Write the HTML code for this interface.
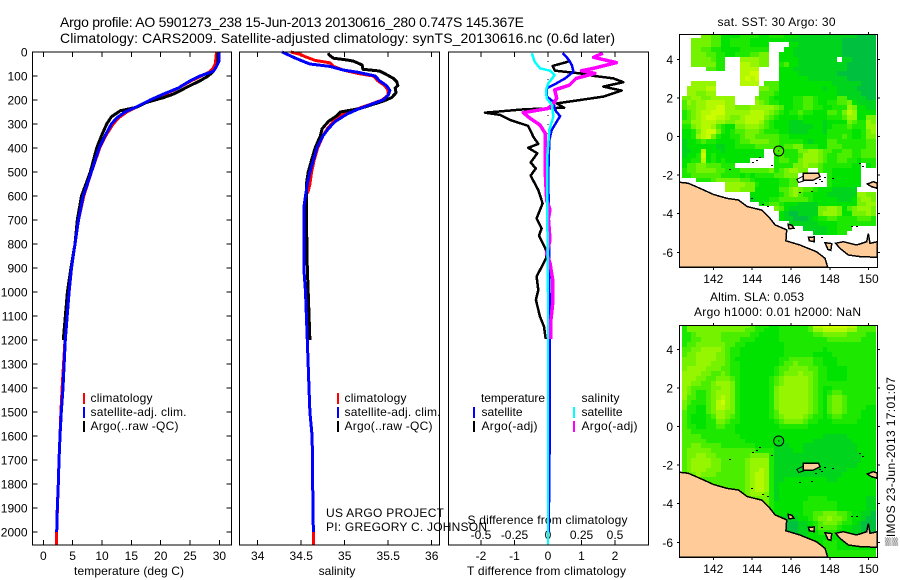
<!DOCTYPE html>
<html lang="en">
<head>
<meta charset="utf-8">
<title>Argo profile chart</title>
<style>
html,body{margin:0;padding:0;background:#fff;}
svg{display:block;font-family:"Liberation Sans",Arial,sans-serif;font-size:12px;fill:#000;}
text{fill:#000;stroke:none;}
</style>
</head>
<body>
<svg id="fig" xmlns="http://www.w3.org/2000/svg" width="900" height="580" viewBox="0 0 900 580">
<rect x="0" y="0" width="900" height="580" fill="#fff"/>
<text x="60" y="27" font-size="14" textLength="464" lengthAdjust="spacing">Argo profile: AO 5901273_238 15-Jun-2013 20130616_280 0.747S 145.367E</text>
<text x="60" y="43" font-size="14" textLength="555" lengthAdjust="spacing">Climatology: CARS2009. Satellite-adjusted climatology: synTS_20130616.nc (0.6d later)</text>
<text x="129" y="575" text-anchor="middle" textLength="110" lengthAdjust="spacing">temperature (deg C)</text>
<text x="337" y="575" text-anchor="middle">salinity</text>
<text x="546.5" y="575" text-anchor="middle" textLength="159" lengthAdjust="spacing">T difference from climatology</text>
<text x="467.5" y="524" textLength="160" lengthAdjust="spacing">S difference from climatology</text>
<text x="326" y="517" textLength="118" lengthAdjust="spacing">US ARGO PROJECT</text>
<text x="326" y="531" textLength="161" lengthAdjust="spacing">PI: GREGORY C. JOHNSON</text>
<text x="776.5" y="26" text-anchor="middle" textLength="118" lengthAdjust="spacing">sat. SST: 30 Argo: 30</text>
<text x="710" y="301" textLength="94" lengthAdjust="spacing">Altim. SLA: 0.053</text>
<text x="694" y="316" textLength="167" lengthAdjust="spacing">Argo h1000: 0.01 h2000: NaN</text>
<text transform="translate(895,546) rotate(-90)" textLength="169" lengthAdjust="spacing">▒IMOS 23-Jun-2013 17:01:07</text>
<g id="plots"></g>
</svg>
<script>
// ---- profile data ----
const tempTicks = [0,5,10,15,20,25,30];
const salTicks = [34,34.5,35,35.5,36];
const salTickLabels = ['34','34.5','35','35.5','36'];
const diffTicks = [-2,-1,0,1,2];
const sDiffTicks = [-0.5,-0.25,0,0.25,0.5];
const sDiffTickLabels = ['-0.5','-0.25','0','0.25','0.5'];
const depthTicks = [0,100,200,300,400,500,600,700,800,900,1000,1100,1200,1300,1400,1500,1600,1700,1800,1900,2000];

const redTempDepth = [0,50,70,85,100,120,150,175,200,225,250,275,300,350,400,500,600,700,800,900,1000,1200,1400,1500,1600,1700,1800,1900,2000,2055];
const redTemp = [29.5,29.3,28.9,28.2,26.9,25.2,23,20.8,18.4,16.2,14.2,12.8,11.9,10.6,9.6,8.2,6.9,6,5.4,4.8,4.4,3.7,3.2,3,2.85,2.67,2.55,2.4,2.28,2.25];
const blueTempDepth = [0,40,60,80,100,120,150,175,200,225,250,275,300,350,400,500,600,700,800,900,1000,1200,1400,1500,1600,1700,1800,1900,2000];
const blueTemp = [29.9,29.9,29.5,29,26.7,25,23,20.5,18.2,16.2,13.9,12.5,11.6,10.5,9.5,8.2,6.8,6,5.4,4.8,4.4,3.75,3.35,3.07,2.85,2.67,2.56,2.39,2.28];
const blackTempDepth = [5,40,60,80,100,120,140,175,190,210,230,245,255,270,300,350,400,500,600,700,800,900,1000,1200];
const blackTemp = [29.8,29.8,29.5,29,28.1,26.7,25,22.2,20.5,17.6,15.9,13.1,12.5,11.6,10.8,9.9,9.1,8,6.5,5.8,5.4,4.7,4.1,3.4];

const redSalDepth = [0,10,20,35,45,60,75,90,100,120,140,160,180,200,220,240,260,290,320,350,400,450,500,550,580,600,700,900,1000,1200,1400,1500,1600,1700,1900,2000,2055];
const redSal = [34.38,34.49,34.55,34.66,34.83,34.87,34.98,35.16,35.33,35.38,35.46,35.5,35.5,35.43,35.28,35.12,34.98,34.87,34.8,34.75,34.69,34.65,34.62,34.6,34.58,34.55,34.53,34.53,34.55,34.57,34.59,34.6,34.625,34.63,34.635,34.64,34.64];
const blueSalDepth = [0,10,25,40,50,60,75,85,100,120,140,160,180,200,220,240,260,290,320,350,400,450,500,550,600,650,700,900,1000,1200,1400,1500,1600,1700,1900,2000];
const blueSal = [34.28,34.34,34.43,34.53,34.6,34.83,34.98,35.16,35.35,35.4,35.48,35.52,35.5,35.44,35.29,35.14,35.02,34.89,34.81,34.75,34.68,34.64,34.6,34.57,34.55,34.53,34.53,34.53,34.55,34.57,34.59,34.6,34.625,34.63,34.635,34.64];
const blackSalDepth = [5,12,26,33,38,54,72,79,92,110,125,140,150,170,190,205,220,235,250,265,290,320,350,400,450,500,550,600,700,800,900,1000,1200];
const blackSal = [34.81,34.82,34.87,35.02,35.1,35.2,35.21,35.4,35.47,35.56,35.6,35.61,35.58,35.59,35.54,35.44,35.31,35.18,34.95,34.91,34.81,34.74,34.72,34.66,34.62,34.58,34.56,34.56,34.56,34.565,34.57,34.58,34.6];

const blackDiffDepth = [40,58,78,89,99,110,126,144,161,186,200,214,232,239,253,262,283,308,353,383,399,422,461,485,515,575,631,693,735,765,825,860,936,992,1033,1103,1144,1196];
const blackDiff = [0.61,0.14,0.21,0.96,1.35,1.95,2.25,1.65,2.2,1.65,0.96,0.26,0.48,-0.74,-1.88,-1.43,-1.13,-0.59,-0.44,-0.29,-0.59,-0.32,-0.52,-0.36,-0.52,-0.29,-0.16,-0.34,-0.19,-0.27,-0.06,-0.06,-0.34,-0.29,-0.36,-0.24,-0.12,-0.07];
const blueDiffDepth = [5,30,54,82,110,130,151,186,207,242,267,325,367,505,800,1200,1600,2000];
const blueDiff = [0.44,0.61,0.71,0.76,0.51,0.26,-0.04,-0.04,0.16,0.21,0.36,0.11,0.04,0.01,0.03,0.06,0.05,0.02];
const magentaSalDepth = [5,22,44,68,78,89,110,138,158,193,214,235,253,276,304,339,408,505,617,658,693,785,840,880,950,1047,1117,1186,1196];
const magentaSal = [0.41,0.34,0.51,0.34,0.25,0.35,0.21,0.16,0.05,0.065,0.04,0.003,-0.185,-0.135,-0.06,-0.02,-0.02,-0.02,-0.01,0.015,0.003,0.015,-0.01,0.015,0.035,0.035,0.022,0.022,0.022];
const cyanSalDepth = [5,40,68,78,96,130,158,193,221,269,325,436,644,1000,2055];
const cyanSal = [-0.12,-0.1,-0.06,0.015,0.05,0.003,-0.015,-0.01,0.03,0.04,0.01,-0.005,-0.005,0,0];
const zeroLineDepths = [0,2055];

// ---- map data: one character per 0.25 degree cell, '.' = no data ----
const mapLonStart = 140.5;
const mapLatStart = 5.25;
const cellDeg = 0.25;
const sstRows = [
"....554422"+"2233332233"+"3222111111"+"1111110000",
"..55554422"+"3333222222"+"2211111111"+"1110000000",
"..55554422"+"33332222.."+"..22111111"+"1110000000",
"..55443322"+"22333333.."+".221111111"+"1110000000",
"..55544332"+"23334455.."+"2221111111"+"1110000000",
"..5555433..."+"666655.."+"2222111111"+"11.1100000",
"..5555533..."+"776655.."+"3422111111"+"1111000000",
".....4433..."+"7777...."+"22211111111111000000",
"............"+"7788...."+"22221111111100000000",
"............"+"7878...."+"22222211111111000000",
"..66666.....7777.444"+"22222222222111111000",
".666677.........5544"+"22222222212211110000",
".665566.........4443"+"22222222222211111000",
"55665566666...."+"5443222233443222244111100",
"4656677776"+"6....65433"+"2223344322"+"3344521111",
"4556677886"+"6555666665"+"4223344332"+"2333652211",
"3456778886"+"6666777654"+"3233433222"+"4435762222",
"3456788776"+"5567777543"+"2222322222"+"3334662255",
"4466777665"+"5667776432"+"2211122221"+"2222543365",
"3356776432"+"2556665432"+"2211111221"+"2333433366",
"2235788532"+"3445554333"+"2211112221"+"3333322356",
"2236785322"+"3345544444"+"3322222222"+"3334322355",
"1223433222"+"2344555544"+"3333321222"+"4433333344",
"1222222112"+"2333344444"+"3445533322"+"4443333344",
"1122722212"+"2222222..4"+"4333556654"+"4334433444",
"1223823222"+"2222222..3"+"4333466654"+"3344433444",
"2233723232"+"2222.....3"+"4433566654"+"3344332333",
"2445544433"+"3........3"+"3335565543"+"3333322.23",
"3445555443"+"3344444453"+"456655..43"+"3222222...",
"3344444433"+"3323233334"+"4555......"+"3222222...",
"...3334555"+"5544322222"+"3344......"+"3222222...",
"........."+"66665532222"+"3344......"+"3222222...",
"........."+"66655522222"+"4456544322"+"211111....",
".............."+"222222"+"3456433222"+"1111116655",
".............."+"122233"+"4444443222"+"2211125665",
"................"+"2344"+"3222111122"+"2222225566",
"..................."+"5"+"4211111155"+"6652456665",
"...................."+"2100111156"+"6652255565",
"...................."+"2110001233"+"4433334443",
"......................"+"111111222233333333",
"........................."+"1111122333.....",
"..........................."+"1112233......"
];
const slaRows = [
"3555555555"+"5555433322"+"3333334778"+"8888774444",
"3555555555"+"5554433222"+"3333334667"+"7777664444",
"3345555544"+"4444332222"+"3333333445"+"5555444433",
"3344555544"+"4433322222"+"3333333333"+"4444444333",
"3445555554"+"4332222222"+"2333333333"+"3333333333",
"4455666654"+"3322222222"+"2333333332"+"3333333333",
"4556666554"+"3322222222"+"2333333222"+"2333333333",
"5556666554"+"3222222222"+"3344444332"+"2233333333",
"5556665554"+"3322222222"+"3445444332"+"2233333333",
"5666655544"+"3322222223"+"4455554433"+"2222333333",
"6666554454"+"3322222223"+"4555655433"+"2222333333",
"6665544555"+"4322222234"+"5666665433"+"2222333333",
"6655445666"+"5322222234"+"5666665433"+"3333333333",
"6544445566"+"5322222235"+"6666665432"+"2333333333",
"6543345666"+"5322222235"+"6666665432"+"3443333333",
"6443345676"+"5322222235"+"6666665432"+"4554333333",
"5433345786"+"5322222235"+"6666665432"+"4554333333",
"5332245776"+"5322222235"+"6666665432"+"4554333322",
"4332245665"+"5322222234"+"6666665432"+"4554333222",
"4322234665"+"4322222234"+"5666654332"+"3443333222",
"4322233554"+"3322222223"+"4555543322"+"2333332222",
"4332233443"+"3222222222"+"3333332222"+"2222222222",
"4433333333"+"3222222222"+"2222222222"+"2222222222",
"4444333333"+"3322222222"+"2222222221"+"1111222222",
"4444433333"+"3332222222"+"1222222111"+"1111122222",
"4455444433"+"3333322221"+"1122211111"+"1111112222",
"4555554444"+"4444433331"+"1112211111"+"1111112222",
"4556655444"+"4444555531"+"1111111111"+"1111111222",
"4566665544"+"4445666631"+"1111111111"+"1111111222",
"4566665544"+"4445666631"+"1111111111"+"1111112222",
"4566655544"+"4445667631"+"1111111111"+"1111222222",
"4556555444"+"4445677631"+"1111111111"+"1112222222",
"4455444444"+"4445677631"+"1222222222"+"1122222222",
"4444444444"+"4445677631"+"2222222222"+"2222222222",
"3444444444"+"4445677631"+"2222222222"+"2222222222",
"3333444444"+"4445666531"+"2222222222"+"2222222222",
"3333334444"+"4444555531"+"2222223333"+"2222222211",
"3333334444"+"4444445532"+"2222233333"+"3322222211",
"3333334444"+"4444445432"+"2222233333"+"3322222211",
"3333333333"+"4444444322"+"2222233445"+"5544322110",
"3333333333"+"3333333222"+"1111223455"+"6554322100",
"3333333333"+"3333322111"+"1000112345"+"5543321000",
"3333333333"+"3332211100"+"0000112344"+"4432211000",
"3333333333"+"3322111000"+"0000112233"+"3322211000",
"3333333333"+"3322111000"+"0000112222"+"2222211100",
"3333333333"+"3322211100"+"0001122223"+"3322222222",
"3333333333"+"3322211100"+"0001122223"+"3322222222",
"3333333333"+"3322211111"+"1122555443"+"3333333333",
"3333333333"+"3322211111"+"1122555443"+"3333333333"
];
const levelColors = ['#00c040','#00d41c','#00e200','#1ce800','#4cee00','#74f200','#96f500','#b4f900','#ccfc00'];

const mapLonTicks = [142,144,146,148,150];
const mapLatTicks = [4,2,0,-2,-4,-6];
const mapLatTickLabels = ['4','2','0','-2','-4','-6'];
const floatLon = 145.367;
const floatLat = -0.747;

const mainlandLon = [140.25,140.71,141.31,142,142.69,143.29,143.75,144.49,144.92,145.18,145.78,145.74,146.46,147.32,147.75,147.89,140.25];
const mainlandLat = [-2.37,-2.42,-2.68,-3,-3.2,-3.29,-3.63,-3.81,-4.24,-4.58,-4.84,-5.4,-5.62,-5.97,-6.31,-6.77,-6.77];
const southIslandLon = [148.3,148.52,148.95,149.55,150.45,150.45,150.07,149.98,149.9,149.38,148.7];
const southIslandLat = [-5.53,-5.79,-6.14,-6.22,-6.26,-5.45,-5.53,-5.02,-5.45,-5.62,-5.45];
const manusLon = [146.63,147.41,147.5,147.16,146.63];
const manusLat = [-1.9,-1.9,-2.08,-2.25,-2.25];
const eastIslandLon = [149.93,150.24,150.45,150.45,150.15];
const eastIslandLat = [-2.46,-2.34,-2.42,-2.68,-2.6];
const manusWestLon = [146.3,146.63,146.66,146.4];
const manusWestLat = [-2.22,-2.05,-2.3,-2.38];
const isleALon = [146.9,147.2,147.2,146.95];
const isleALat = [-5.22,-5.2,-5.45,-5.4];
const isleBLon = [147.75,148.1,148.05,147.9];
const isleBLat = [-5.5,-5.55,-5.9,-5.85];
const isleCLon = [145.85,146.05,146.15,145.9];
const isleCLat = [-4.55,-4.6,-4.75,-4.78];
const speckLon = [142.86,144.06,144.23,144.4,145,146.46,147.06,148.18,149.55,149.73,149.12,149.38,147.58,143.97,144.58,144.83,147.49,147.75,147.6,147.3];
const speckLat = [-1.73,-1.39,-1.25,-1.13,-1.53,-2.91,-2.89,-2.22,-1.42,-1.56,-4.67,-4.67,-5.27,-3.25,-3.55,-3.63,-2.25,-2.17,-2.35,-2.45];

// ---- axis functions ----
const NS = 'http://www.w3.org/2000/svg';
const plotRoot = document.getElementById('plots');
const xTemp = t => 43.3 + t * 5.87;
const xSal = s => 344.7 + (s - 35) * 87.0;
const xDiff = d => 548 + d * 33.5;
const xSDiff = s => xDiff(s * 4);
const yDepth = d => 52 + d * 0.24;
const mapX = lon => 713.3 + (lon - 142) * 19.42;
const mapYTop = lat => 59.33 + (4 - lat) * 19.3;
const mapYBottom = lat => 349.33 + (4 - lat) * 19.3;

function makeEl(tag, attrs, parent) {
  const e = document.createElementNS(NS, tag);
  for (const k in attrs) e.setAttribute(k, attrs[k]);
  (parent || plotRoot).appendChild(e);
  return e;
}
function addLabel(x, y, str, anchor, name, width) {
  const t = makeEl('text', {x: x, y: y, 'text-anchor': anchor});
  if (width) {
    t.setAttribute('textLength', width);
    t.setAttribute('lengthAdjust', 'spacing');
  }
  t.textContent = str;
  
  
  return t;
}
function addTick(x1, y1, x2, y2) {
  const l = makeEl('line', {x1: x1, y1: y1, x2: x2, y2: y2, stroke: '#000', 'stroke-width': 1, 'shape-rendering': 'crispEdges'});
  
  
}
function addCurve(depths, vals, xf, color, width, name) {
  const pts = depths.map((d, i) => xf(vals[i]).toFixed(1) + ',' + yDepth(d).toFixed(1)).join(' ');
  const p = makeEl('polyline', {points: pts, fill: 'none', stroke: color, 'stroke-width': width, 'stroke-linejoin': 'round', 'shape-rendering': 'crispEdges'});
  
  
}
function addFrame(x, y, w, h, name) {
  const r = makeEl('rect', {x: x, y: y, width: w, height: h, fill: 'none', stroke: '#000', 'stroke-width': 1, 'shape-rendering': 'crispEdges'});
  
  
}
function legendBar(x, y, color, name) {
  const r = makeEl('rect', {x: x, y: y, width: 2, height: 11, fill: color});
  
  
}

// ---- profile panels ----
const plotTop = 52, plotBot = 545;
const p1L = 32.5, p1R = 231.5, p2L = 239.5, p2R = 439.5, p3L = 448.5, p3R = 648.5;

depthTicks.forEach(d => {
  const y = yDepth(d);
  addTick(p1L, y, p1L + 5, y);
  addTick(p1R, y, p1R - 5, y);
  addLabel(27.5, y + 4.5, String(d), 'end', 'depth-tick-label');
});
tempTicks.forEach(t => {
  const x = xTemp(t);
  addTick(x, plotTop, x, plotTop + 5);
  addTick(x, plotBot, x, plotBot - 5);
  addLabel(x, 560, String(t), 'middle', 'temperature-tick-label');
});
salTicks.forEach((s, i) => {
  const x = xSal(s);
  addTick(x, plotTop, x, plotTop + 5);
  addTick(x, plotBot, x, plotBot - 5);
  addLabel(x, 560, salTickLabels[i], 'middle', 'salinity-tick-label');
});
diffTicks.forEach(d => {
  const x = xDiff(d);
  addTick(x, plotTop, x, plotTop + 5);
  addTick(x, plotBot, x, plotBot - 5);
  addLabel(x, 560, String(d), 'middle', 't-difference-tick-label');
});
sDiffTicks.forEach((s, i) => {
  addLabel(xSDiff(s), 539, sDiffTickLabels[i], 'middle', 's-difference-tick-label');
});

addCurve(redTempDepth, redTemp, xTemp, '#ff0000', 3, 'temperature-climatology-line');
addCurve(blackTempDepth, blackTemp, xTemp, '#000', 3, 'temperature-argo-line');
addCurve(blueTempDepth, blueTemp, xTemp, '#0000ff', 3, 'temperature-satellite-line');

addCurve(redSalDepth, redSal, xSal, '#ff0000', 3, 'salinity-climatology-line');
addCurve(blackSalDepth, blackSal, xSal, '#000', 3, 'salinity-argo-line');
addCurve(blueSalDepth, blueSal, xSal, '#0000ff', 3, 'salinity-satellite-line');

const zeroLine = makeEl('polyline', {points: zeroLineDepths.map(d => xDiff(0) + ',' + yDepth(d)).join(' '), fill: 'none', stroke: '#000', 'stroke-width': 1, 'stroke-dasharray': '1 8', 'shape-rendering': 'crispEdges'});


addCurve(blackDiffDepth, blackDiff, xDiff, '#000', 2.5, 'temperature-difference-argo-line');
addCurve(blueDiffDepth, blueDiff, xDiff, '#0000ff', 2.5, 'temperature-difference-satellite-line');
addCurve(magentaSalDepth, magentaSal, xSDiff, '#ff00ff', 3.5, 'salinity-difference-argo-line');
addCurve(cyanSalDepth, cyanSal, xSDiff, '#00ffff', 2.5, 'salinity-difference-satellite-line');

addFrame(p1L, plotTop, p1R - p1L, plotBot - plotTop, 'temperature-plot-frame');
addFrame(p2L, plotTop, p2R - p2L, plotBot - plotTop, 'salinity-plot-frame');
addFrame(p3L, plotTop, p3R - p3L, plotBot - plotTop, 'difference-plot-frame');

// ---- legends ----
[[83, 90.5], [337, 344.5]].forEach(pos => {
  legendBar(pos[0], 393, '#ff0000', 'legend-swatch-climatology');
  legendBar(pos[0], 407, '#0000ff', 'legend-swatch-satellite');
  legendBar(pos[0], 421, '#000', 'legend-swatch-argo');
  addLabel(pos[1], 402, 'climatology', 'start', 'legend-climatology', 62);
  addLabel(pos[1], 416, 'satellite-adj. clim.', 'start', 'legend-satellite', 96);
  addLabel(pos[1], 430, 'Argo(..raw -QC)', 'start', 'legend-argo', 88);
});
addLabel(481, 402, 'temperature', 'start', 'legend-temperature-heading', 64);
addLabel(581.5, 402, 'salinity', 'start', 'legend-salinity-heading', 38);
legendBar(473, 407, '#0000ff', 'legend-swatch-t-satellite');
legendBar(473, 421, '#000', 'legend-swatch-t-argo');
legendBar(573, 407, '#00ffff', 'legend-swatch-s-satellite');
legendBar(573, 421, '#ff00ff', 'legend-swatch-s-argo');
addLabel(481.5, 416, 'satellite', 'start', 'legend-t-satellite', 41);
addLabel(481.5, 430, 'Argo(-adj)', 'start', 'legend-t-argo', 56);
addLabel(581.5, 416, 'satellite', 'start', 'legend-s-satellite', 41);
addLabel(581.5, 430, 'Argo(-adj)', 'start', 'legend-s-argo', 56);

// ---- maps ----
const mapDefs = makeEl('defs', {});
function drawMap(rows, mapY, yTopPx, yBotPx, id, tickBaseline) {
  const left = 679.5, right = 877.5;
  const clip = makeEl('clipPath', {id: id}, mapDefs);
  makeEl('rect', {x: left, y: yTopPx, width: right - left, height: yBotPx - yTopPx}, clip);
  const g = makeEl('g', {'clip-path': 'url(#' + id + ')'});
  
  
  rows.forEach((row, r) => {
    for (let c = 0; c < row.length; c++) {
      const ch = row[c];
      if (ch === '.') continue;
      const lon = mapLonStart + c * cellDeg;
      const lat = mapLatStart - r * cellDeg;
      const x0 = Math.round(mapX(lon - cellDeg / 2));
      const x1 = Math.round(mapX(lon + cellDeg / 2));
      const y0 = Math.round(mapY(lat + cellDeg / 2));
      const y1 = Math.round(mapY(lat - cellDeg / 2));
      const cell = makeEl('rect', {x: x0, y: y0, width: x1 - x0, height: y1 - y0, fill: levelColors[+ch]}, g);
      
      
    }
  });
  const polys = [
    [mainlandLon, mainlandLat, 'mainland'],
    [southIslandLon, southIslandLat, 'south-island'],
    [manusLon, manusLat, 'manus-island'],
    [eastIslandLon, eastIslandLat, 'east-island'],
    [isleALon, isleALat, 'small-island'],
    [isleBLon, isleBLat, 'small-island'],
    [isleCLon, isleCLat, 'small-island']
  ];
  polys.forEach(p => {
    const pts = p[0].map((lon, i) => mapX(lon).toFixed(1) + ',' + mapY(p[1][i]).toFixed(1)).join(' ');
    const poly = makeEl('polygon', {points: pts, fill: '#ffcc99', stroke: '#000', 'stroke-width': 1.5, 'shape-rendering': 'crispEdges'}, g);
    
    
  });
  const westPts = manusWestLon.map((lon, i) => mapX(lon).toFixed(1) + ',' + mapY(manusWestLat[i]).toFixed(1)).join(' ');
  const west = makeEl('polygon', {points: westPts, fill: 'none', stroke: '#000', 'stroke-width': 1}, g);
  
  
  speckLon.forEach((lon, i) => {
    const s = makeEl('rect', {x: Math.round(mapX(lon)) - 1, y: Math.round(mapY(speckLat[i])) - 1, width: 2, height: 1, fill: '#000'}, g);
    
    
  });
  const marker = makeEl('circle', {cx: mapX(floatLon), cy: mapY(floatLat), r: 5, fill: 'none', stroke: '#000', 'stroke-width': 1}, g);
  
  
  const dot = makeEl('rect', {x: mapX(floatLon) - 0.5, y: mapY(floatLat) - 0.5, width: 1, height: 1, fill: '#000'}, g);
  
  

  mapLonTicks.forEach(lon => {
    const x = mapX(lon);
    addTick(x, yTopPx, x, yTopPx - 2.5);
    addTick(x, yBotPx, x, yBotPx + 2.5);
    addLabel(x, tickBaseline, String(lon), 'middle', 'map-longitude-tick-label');
  });
  mapLatTicks.forEach((lat, i) => {
    const y = mapY(lat);
    addTick(left, y, left - 2.5, y);
    addTick(right, y, right + 2.5, y);
    addLabel(673, y + 4.5, mapLatTickLabels[i], 'end', 'map-latitude-tick-label');
  });
  addFrame(left, yTopPx, right - left, yBotPx - yTopPx, id + '-map-frame');
}
drawMap(sstRows, mapYTop, 34.5, 267.5, 'sst', 283);
drawMap(slaRows, mapYBottom, 325.5, 557.5, 'sla', 573);
</script>
</body>
</html>
